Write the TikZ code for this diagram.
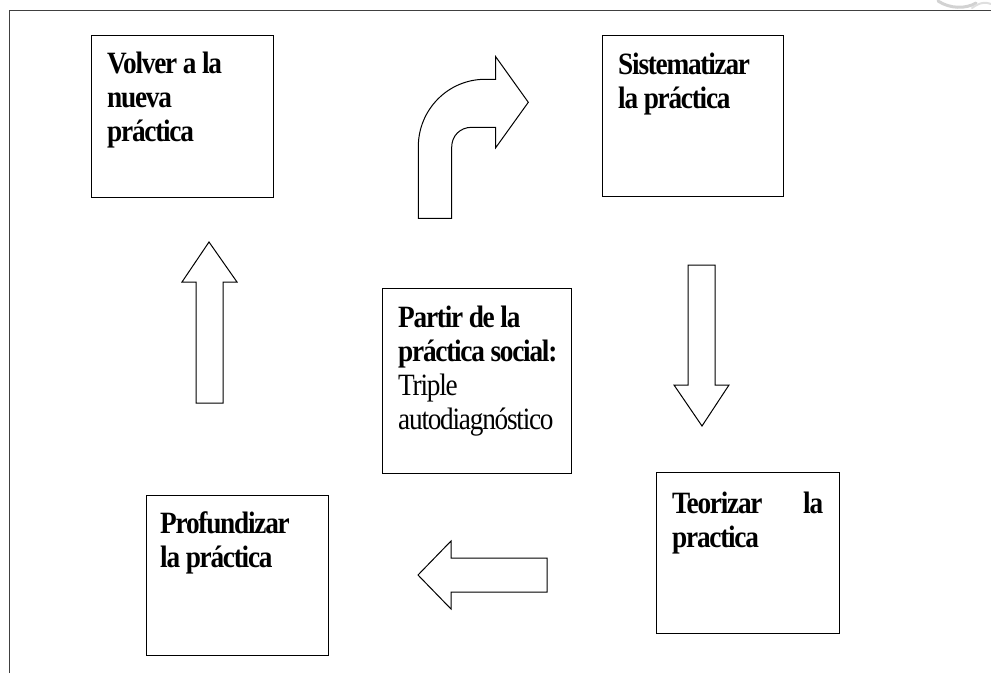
\documentclass[tikz,border=0pt]{standalone}
\usepackage{fontspec}
\setmainfont{Liberation Serif}[FakeStretch=0.88, LetterSpace=-4]
\begin{document}
\begin{tikzpicture}[x=1pt,y=-1pt,
  box/.style={draw=black, line width=1.3pt, inner sep=0pt, anchor=north west, fill=white},
  lbl/.style={anchor=base west, inner sep=0pt, font=\fontsize{31}{34}\selectfont},
  blockarrow/.style={draw=black, line width=1pt, fill=white, line join=miter},
  frame/.style={draw=black!75, line width=1pt}]
\useasboundingbox (0,0) rectangle (991,673);
% page frame
\draw[frame] (9,673) -- (9,10.7) -- (991,10.7);
% faint smudge top right
\draw[gray!35, line width=3pt, line cap=round] (938,1) .. controls (950,9) and (966,9) .. (976,3);
\draw[gray!25, line width=2pt, line cap=round] (972,8) .. controls (980,2) and (986,2) .. (991,4);
% boxes
\node[box, minimum width=182pt, minimum height=162pt] (b1) at (91,35) {};
\node[box, minimum width=181pt, minimum height=161pt] (b2) at (602,35) {};
\node[box, minimum width=189pt, minimum height=185pt] (b3) at (382,288) {};
\node[box, minimum width=183pt, minimum height=161pt] (b4) at (656,472) {};
\node[box, minimum width=182pt, minimum height=160pt] (b5) at (146,495) {};
% texts
\node[lbl] (t1) at (107,73) {\parbox[t]{170pt}{\raggedright\bfseries Volver a la\\nueva\\práctica}};
\node[lbl] (t2) at (618,74) {\parbox[t]{170pt}{\raggedright\bfseries Sistematizar\\la práctica}};
\node[lbl] (t3) at (398,327) {\parbox[t]{175pt}{\raggedright{\bfseries Partir de la\\práctica social:}\\Triple\\autodiagnóstico}};
\node[lbl] (t4) at (672,513) {\parbox[t]{151pt}{\bfseries Teorizar\hfill la\\practica}};
\node[lbl] (t5) at (160,533) {\parbox[t]{170pt}{\raggedright\bfseries Profundizar\\la práctica}};
% curved arrow (top)
\draw[blockarrow] (418.3,218.3) -- (418.3,146.7)
  .. controls (418.3,109.7) and (448,79.3) .. (485,79.3)
  -- (495.7,79.3) -- (495.7,56.7) -- (528.3,102.3) -- (495.7,147.7) -- (495.7,127.3)
  -- (471.7,127.3) .. controls (460,127.3) and (451.7,136) .. (451.7,147)
  -- (451.7,218.3) -- cycle;
% down arrow (right)
\draw[blockarrow] (688,265) -- (715,265) -- (715,385) -- (729,385) -- (702,426)
  -- (674,385) -- (688,385) -- cycle;
% left arrow (bottom)
\draw[blockarrow] (547,558) -- (547,592) -- (451,592) -- (451,609) -- (418,575)
  -- (451,541) -- (451,558) -- cycle;
% up arrow (left)
\draw[blockarrow] (196,403) -- (196,282) -- (182,282) -- (209,242) -- (237,282)
  -- (223,282) -- (223,403) -- cycle;
\end{tikzpicture}
\end{document}
